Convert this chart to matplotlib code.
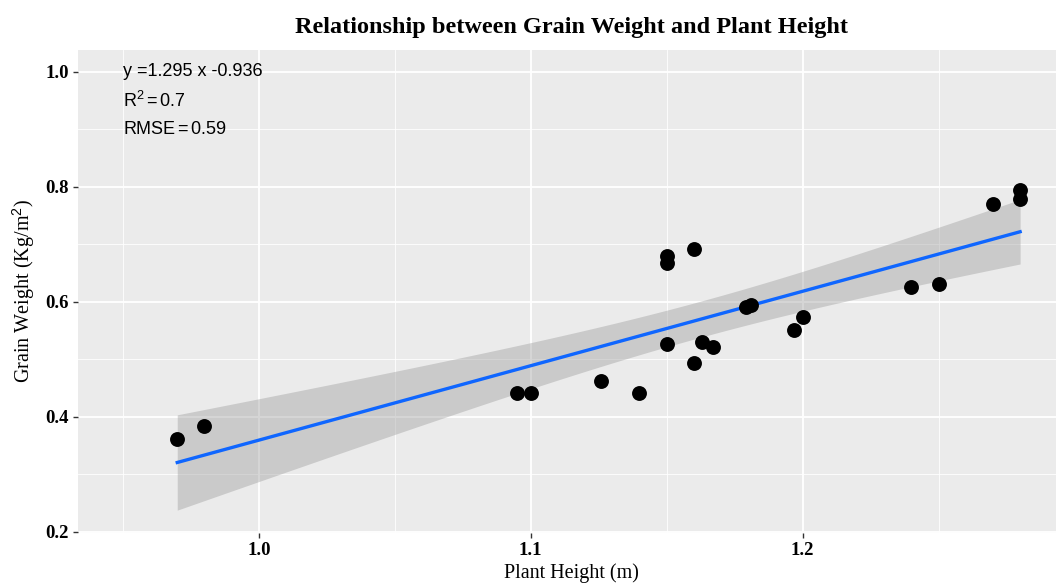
import numpy as np
import matplotlib
matplotlib.use("Agg")
import matplotlib.pyplot as plt
from matplotlib.ticker import MultipleLocator

# Plant height (m) and grain weight (kg/m^2)
plant_height = [0.970, 0.980, 1.095, 1.100, 1.126, 1.140, 1.150, 1.150, 1.160,
                1.150, 1.160, 1.163, 1.167, 1.179, 1.181, 1.197, 1.200,
                1.240, 1.250, 1.270, 1.280, 1.280]
grain_weight = [0.361, 0.384, 0.441, 0.441, 0.463, 0.442, 0.680, 0.667, 0.692,
                0.526, 0.493, 0.531, 0.522, 0.591, 0.595, 0.551, 0.574,
                0.625, 0.631, 0.771, 0.794, 0.778]

x_ticks = [1.0, 1.1, 1.2]
y_ticks = [0.2, 0.4, 0.6, 0.8, 1.0]
annot_lines = ["y =1.295 x -0.936", r"R$^2$$\,$=$\,$0.7", r"RMSE$\,$=$\,$0.59"]

T_95 = 2.086  # t quantile, df = 20

SERIF = ["Liberation Serif", "DejaVu Serif"]

plt.rcParams["mathtext.fontset"] = "custom"
plt.rcParams["mathtext.rm"] = "Liberation Sans"
plt.rcParams["mathtext.it"] = "Liberation Sans"


def fit_band(x, y, n_grid=80):
    x = np.asarray(x)
    y = np.asarray(y)
    slope, intercept = np.polyfit(x, y, 1)
    resid = y - (slope * x + intercept)
    s = np.sqrt(np.sum(resid ** 2) / (len(x) - 2))
    grid = np.linspace(x.min(), x.max(), n_grid)
    pred = slope * grid + intercept
    se = s * np.sqrt(1 / len(x) + (grid - x.mean()) ** 2 / np.sum((x - x.mean()) ** 2))
    return grid, pred, pred - T_95 * se, pred + T_95 * se


fig = plt.figure(figsize=(10.56, 5.83), dpi=100)
ax = fig.add_axes([78 / 1056, 1 - 533 / 583, (1065 - 78) / 1056, (533 - 50) / 583])
ax.set_facecolor("#EBEBEB")

grid, pred, lo, hi = fit_band(plant_height, grain_weight)
ax.fill_between(grid, lo, hi, color="#999999", alpha=0.4, linewidth=0, zorder=2)
ax.plot(grid, pred, color="#0F66FF", linewidth=2.4, zorder=3)
ax.scatter(plant_height, grain_weight, s=115, color="black", linewidths=0, zorder=4)

ax.set_xlim(0.9335, 1.2965)
ax.set_ylim(0.198, 1.038)
ax.set_xticks(x_ticks)
ax.set_yticks(y_ticks)
ax.xaxis.set_minor_locator(MultipleLocator(0.05))
ax.yaxis.set_minor_locator(MultipleLocator(0.1))
ax.grid(which="major", color="white", linewidth=1.3)
ax.grid(which="minor", color="white", linewidth=0.6)
ax.set_axisbelow(True)
for spine in ax.spines.values():
    spine.set_visible(False)

ax.tick_params(which="major", length=3.5, width=1.0, color="#333333", pad=3)
ax.tick_params(which="minor", length=0)
ax.set_xticklabels([f"{v:.1f}" for v in x_ticks], family=SERIF, weight="bold", size=13.5)
ax.set_yticklabels([f"{v:.1f}" for v in y_ticks], family=SERIF, weight="bold", size=13.5)

ax.set_xlabel("Plant Height (m)", family=SERIF, fontsize=14.5, labelpad=3)
ax.set_ylabel("Grain Weight (Kg/m$^2$)", family=SERIF, fontsize=14.5, labelpad=6)
ax.set_title("Relationship between Grain Weight and Plant Height",
             family=SERIF, fontweight="bold", fontsize=17.5, pad=12)

for i, line in enumerate(annot_lines):
    ax.text(0.95, 1.0 - i * 0.05, line, family="Liberation Sans", fontsize=13,
            ha="left", va="center", zorder=5)

fig.savefig("out.png", dpi=100)
